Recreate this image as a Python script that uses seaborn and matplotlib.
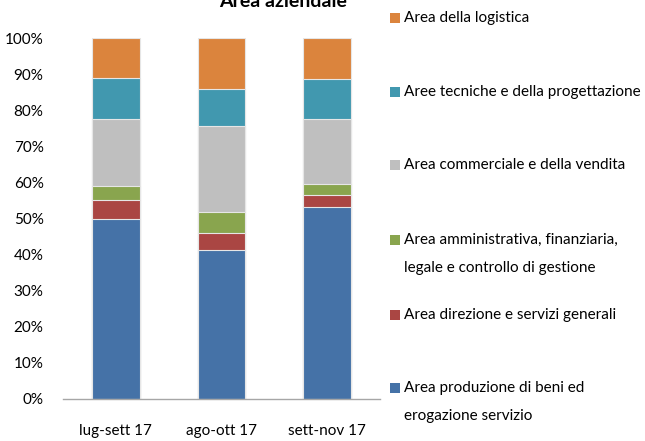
import matplotlib
matplotlib.use("Agg")
import matplotlib.pyplot as plt
import matplotlib.patches as mpatches
import seaborn as sns
import pandas as pd
import numpy as np
from matplotlib.ticker import PercentFormatter

# ----------------------------------------------------------------------------------
# Data (percent of total per period)

periods = ["lug-sett 17", "ago-ott 17", "sett-nov 17"]

series = [
    "Area produzione di beni ed\nerogazione servizio",
    "Area direzione e servizi generali",
    "Area amministrativa, finanziaria,\nlegale e controllo di gestione",
    "Area commerciale e della vendita",
    "Aree tecniche e della progettazione",
    "Area della logistica",
]

produzione   = [50.0, 41.2, 53.1]
direzione    = [5.0, 4.7, 3.5]
amministr    = [4.0, 6.0, 2.9]
commerciale  = [18.6, 23.7, 18.1]
tecniche     = [11.4, 10.2, 11.1]
logistica    = [11.0, 14.2, 11.3]

colors = ["#4572A7", "#AA4643", "#89A54E", "#BFBFBF", "#4198AF", "#DB843D"]

# ----------------------------------------------------------------------------------
# Plot

sns.set_theme(style="white")
plt.rcParams["font.family"] = ["Lato", "DejaVu Sans"]
plt.rcParams["text.color"] = "black"

FS = 11

values = np.array([produzione, direzione, amministr, commerciale, tecniche, logistica])
totals = values.sum(axis=0)
shares = values / totals * 100
cum = shares.cumsum(axis=0)

fig = plt.figure(figsize=(6.45, 4.41), dpi=100)
ax = fig.add_axes([63 / 645, 42 / 441, 317 / 645, 361 / 441])

# stacked bars: draw cumulative heights from the top layer down
for i in range(len(series) - 1, -1, -1):
    df = pd.DataFrame({"period": periods, "value": cum[i]})
    sns.barplot(
        data=df,
        x="period",
        y="value",
        color=colors[i],
        width=0.45,
        saturation=1,
        edgecolor="#e6e6e6",
        linewidth=0.8,
        ax=ax,
    )

ax.set_ylim(0, 100)
ax.set_xlim(-0.5, 2.5)
ax.set_yticks(np.arange(0, 101, 10))
ax.yaxis.set_major_formatter(PercentFormatter(decimals=0))
ax.set_xlabel("")
ax.set_ylabel("")
for s in ["top", "right", "left"]:
    ax.spines[s].set_visible(False)
ax.spines["bottom"].set_color("#a6a6a6")
ax.spines["bottom"].set_linewidth(1)
ax.tick_params(axis="y", length=0, pad=14, labelsize=FS, labelcolor="black")
ax.tick_params(axis="x", which="major", length=0, pad=18, labelsize=FS, labelcolor="black")
ax.set_xticks([-0.5, 0.5, 1.5, 2.5], minor=True)
ax.tick_params(axis="x", which="minor", length=5, width=1, color="#a6a6a6", direction="out")
ax.grid(False)

fig.text(283 / 645, 1 - 7 / 441, "Area aziendale", ha="center", va="baseline",
         fontsize=14, fontweight="bold")

# legend, one slot per series from the top
slot_y = [18, 92, 165, 240, 315, 388]
for i, y in enumerate(slot_y):
    k = len(series) - 1 - i
    fig.patches.append(mpatches.Rectangle(
        (390 / 645, 1 - (y + 5) / 441), 10 / 645, 10 / 441,
        transform=fig.transFigure, facecolor=colors[k], edgecolor="none"))
    fig.text(404 / 645, 1 - (y - 7) / 441, series[k], ha="left", va="top",
             fontsize=FS, linespacing=2.3, transform=fig.transFigure)

fig.savefig("out.png", dpi=100)
